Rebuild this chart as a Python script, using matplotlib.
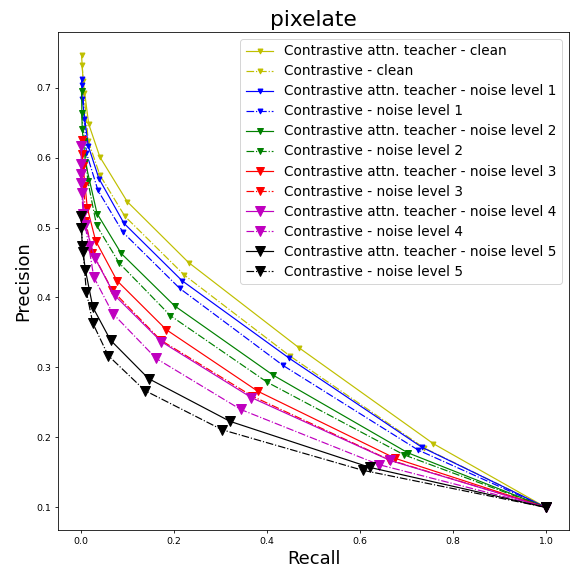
import numpy as np
import matplotlib
matplotlib.use("Agg")
import matplotlib.pyplot as plt

# recall / precision per curve
rec_clean_t = [0.0006, 0.004, 0.016, 0.040, 0.099, 0.231, 0.469, 0.758, 1.0]
pre_clean_t = [0.747, 0.710, 0.648, 0.601, 0.537, 0.450, 0.328, 0.191, 0.100]
rec_clean_c = [0.002, 0.006, 0.015, 0.040, 0.094, 0.222, 0.450, 0.738, 1.0]
pre_clean_c = [0.732, 0.692, 0.624, 0.575, 0.516, 0.432, 0.316, 0.185, 0.100]

rec_n1_t = [0.0006, 0.002, 0.015, 0.038, 0.092, 0.217, 0.448, 0.733, 1.0]
pre_n1_t = [0.712, 0.684, 0.617, 0.570, 0.506, 0.424, 0.313, 0.186, 0.100]
rec_n1_c = [0.002, 0.007, 0.011, 0.036, 0.090, 0.212, 0.434, 0.725, 1.0]
pre_n1_c = [0.704, 0.655, 0.607, 0.553, 0.493, 0.413, 0.303, 0.182, 0.100]

rec_n2_t = [0.0006, 0.002, 0.009, 0.034, 0.086, 0.201, 0.413, 0.703, 1.0]
pre_n2_t = [0.695, 0.641, 0.593, 0.520, 0.463, 0.388, 0.289, 0.178, 0.100]
rec_n2_c = [0.0006, 0.007, 0.014, 0.033, 0.082, 0.192, 0.400, 0.695, 1.0]
pre_n2_c = [0.664, 0.624, 0.567, 0.503, 0.449, 0.374, 0.279, 0.175, 0.100]

rec_n3_t = [0.0006, 0.004, 0.013, 0.031, 0.077, 0.183, 0.380, 0.676, 1.0]
pre_n3_t = [0.625, 0.588, 0.528, 0.481, 0.424, 0.354, 0.266, 0.170, 0.100]
rec_n3_c = [0.002, 0.006, 0.009, 0.024, 0.067, 0.171, 0.368, 0.663, 1.0]
pre_n3_c = [0.605, 0.560, 0.510, 0.464, 0.410, 0.339, 0.259, 0.168, 0.100]

rec_n4_t = [0.0, 0.0, 0.002, 0.009, 0.029, 0.072, 0.172, 0.366, 0.665, 1.0]
pre_n4_t = [0.617, 0.577, 0.550, 0.503, 0.457, 0.403, 0.337, 0.257, 0.167, 0.100]
rec_n4_c = [0.0, 0.0, 0.004, 0.016, 0.027, 0.068, 0.161, 0.343, 0.641, 1.0]
pre_n4_c = [0.591, 0.563, 0.520, 0.474, 0.429, 0.377, 0.313, 0.240, 0.161, 0.100]

rec_n5_t = [0.0, 0.002, 0.009, 0.025, 0.063, 0.145, 0.320, 0.622, 1.0]
pre_n5_t = [0.517, 0.474, 0.439, 0.386, 0.339, 0.284, 0.223, 0.157, 0.100]
rec_n5_c = [0.0, 0.004, 0.011, 0.025, 0.058, 0.137, 0.303, 0.606, 1.0]
pre_n5_c = [0.500, 0.465, 0.408, 0.363, 0.317, 0.267, 0.211, 0.153, 0.100]

levels = ["clean", "noise level 1", "noise level 2", "noise level 3",
          "noise level 4", "noise level 5"]
colors = ["y", "b", "g", "r", "m", "k"]
msizes = [5, 5, 6.5, 8, 9.5, 11]

teacher = [(rec_clean_t, pre_clean_t), (rec_n1_t, pre_n1_t), (rec_n2_t, pre_n2_t),
           (rec_n3_t, pre_n3_t), (rec_n4_t, pre_n4_t), (rec_n5_t, pre_n5_t)]
contrast = [(rec_clean_c, pre_clean_c), (rec_n1_c, pre_n1_c), (rec_n2_c, pre_n2_c),
            (rec_n3_c, pre_n3_c), (rec_n4_c, pre_n4_c), (rec_n5_c, pre_n5_c)]

fig = plt.figure(figsize=(8, 8), dpi=571 / 8)
ax = fig.add_axes([0.1016, 0.0718, 0.895, 0.872])

for i, lvl in enumerate(levels):
    r, p = teacher[i]
    ax.plot(r, p, "-", marker="v", color=colors[i], ms=msizes[i], lw=1.2,
            label="Contrastive attn. teacher - " + lvl)
    r, p = contrast[i]
    ax.plot(r, p, "-.", marker="v", color=colors[i], ms=msizes[i], lw=1.2,
            label="Contrastive - " + lvl)

ax.set_title("pixelate", fontsize=22)
ax.set_xlabel("Recall", fontsize=18)
ax.set_ylabel("Precision", fontsize=18)
ax.tick_params(labelsize=9.5)
ax.legend(loc="upper right", fontsize=13.8, labelspacing=0.44)

fig.savefig("out.png", dpi=571 / 8)
